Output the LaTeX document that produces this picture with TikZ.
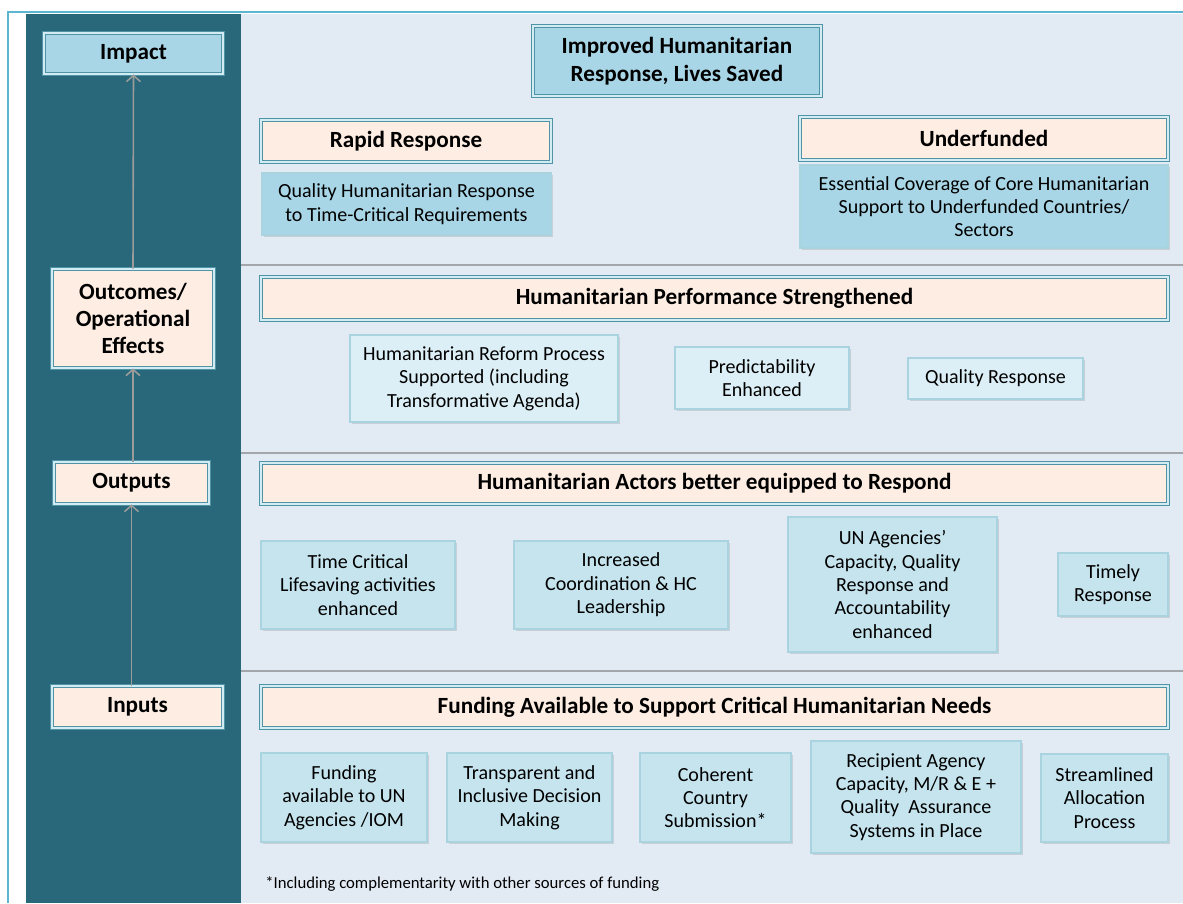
\documentclass[tikz,border=0pt]{standalone}
\usepackage{fontspec}
\setmainfont{Carlito}
\usetikzlibrary{arrows.meta,shadows}
\definecolor{framecol}{HTML}{5CB6D0}
\definecolor{column}{HTML}{28687A}
\definecolor{panel}{HTML}{E2EAF4}
\definecolor{peach}{HTML}{FDEDE3}
\definecolor{skyfill}{HTML}{A8D6E6}
\definecolor{midfill}{HTML}{C5E4EE}
\definecolor{palefill}{HTML}{DDEFF6}
\definecolor{edge}{HTML}{4F94A6}
\definecolor{innerband}{HTML}{D3EBF2}
\definecolor{softedge}{HTML}{A9D3DE}
\definecolor{arrowgray}{HTML}{9B9B9B}
\definecolor{rulegray}{HTML}{A3A7AB}

\begin{document}
\begin{tikzpicture}
      [x = 0.02cm, y = -0.02cm,
      framed/.style = {
         draw = edge,
         line width = 0.5pt,
         double = innerband,
         double distance = 1.1pt,
         drop shadow = {shadow xshift = 1pt, shadow yshift = -1.2pt, opacity = 0.3}
      },
      head/.style = {
         framed,
         fill = peach,
         align = center,
         inner sep = 1pt,
         font = \fontsize{13.2}{15.6}\selectfont\bfseries
      },
      goal/.style = {
         head,
         fill = skyfill
      },
      item/.style = {
         draw = softedge,
         line width = 0.8pt,
         align = center,
         inner sep = 1pt,
         font = \fontsize{11.4}{13.3}\selectfont,
         drop shadow = {shadow xshift = 1pt, shadow yshift = -1.2pt, opacity = 0.25}
      },
      link/.style = {arrowgray, line width = 0.9pt, -{Straight Barb[length = 3.5pt, width = 8pt]}},
      separator/.style = {rulegray, line width = 1pt}]

      \useasboundingbox (0, 0) rectangle (1183, 903);
      \fill[white] (0, 0) rectangle (1183, 903);

      % frame, level column and panel
      \draw[framecol, line width = 1.2pt] (8, 903) -- (8, 12) -- (1183, 12);
      \fill[column] (26, 14) rectangle (241, 903);
      \fill[panel] (241, 14) rectangle (1183, 903);
      \draw[separator] (241, 265) -- (1183, 265);
      \draw[separator] (241, 453) -- (1183, 453);
      \draw[separator] (241, 671) -- (1183, 671);

      % levels
      \node[goal, minimum width = 3.58cm, minimum height = 0.82cm] (impact) at (133.5, 53.5) {Impact};
      \node[head, minimum width = 3.24cm, minimum height = 1.98cm] (outcomes) at (133, 318.5) {Outcomes/\\Operational\\Effects};
      \node[head, minimum width = 3.1cm, minimum height = 0.84cm] (outputs) at (131.5, 483) {Outputs};
      \node[head, minimum width = 3.42cm, minimum height = 0.84cm] (inputs) at (137.5, 707) {Inputs};

      \draw[link] (inputs.north -| outputs.south) -- (outputs.south);
      \draw[link] (outputs.north -| outcomes.south) -- (outcomes.south);
      \draw[link] (outcomes.north) -- (impact.south);

      % impact
      \node[goal, minimum width = 5.76cm, minimum height = 1.4cm] (lives) at (677, 61) {Improved Humanitarian\\Response, Lives Saved};
      \node[head, minimum width = 5.8cm, minimum height = 0.84cm] (rapid) at (406, 141) {Rapid Response};
      \node[item, fill = skyfill, minimum width = 5.78cm, minimum height = 1.24cm] (rapidout) at (406.5, 204) {Quality Humanitarian Response\\to Time-Critical Requirements};
      \node[head, minimum width = 7.36cm, minimum height = 0.86cm] (under) at (984, 138.5) {Underfunded};
      \node[item, fill = skyfill, minimum width = 7.36cm, minimum height = 1.66cm] (underout) at (984, 206.5) {Essential Coverage of Core Humanitarian\\Support to Underfunded Countries/\\Sectors};

      % outcomes
      \node[head, minimum width = 18.14cm, minimum height = 0.86cm] (perf) at (714.5, 298.5) {Humanitarian Performance Strengthened};
      \node[item, fill = palefill, minimum width = 5.36cm, minimum height = 1.74cm] (reform) at (484, 378.5) {Humanitarian Reform Process\\Supported (including\\Transformative Agenda)};
      \node[item, fill = palefill, minimum width = 3.48cm, minimum height = 1.24cm] (predict) at (762, 378) {Predictability\\Enhanced};
      \node[item, fill = palefill, minimum width = 3.5cm, minimum height = 0.82cm] (quality) at (995.5, 378.5) {Quality Response};

      % outputs
      \node[head, minimum width = 18.14cm, minimum height = 0.82cm] (actors) at (714.5, 483.5) {Humanitarian Actors better equipped to Respond};
      \node[item, fill = midfill, minimum width = 3.88cm, minimum height = 1.76cm] (lifesave) at (358, 585) {Time Critical\\Lifesaving activities\\enhanced};
      \node[item, fill = midfill, minimum width = 4.28cm, minimum height = 1.76cm] (coord) at (621, 585) {Increased\\Coordination \& HC\\Leadership};
      \node[item, fill = midfill, minimum width = 4.18cm, minimum height = 2.7cm] (agencies) at (892.5, 584.5) {UN Agencies’\\Capacity, Quality\\Response and\\Accountability\\enhanced};
      \node[item, fill = midfill, minimum width = 2.2cm, minimum height = 1.26cm] (timely) at (1113, 584.5) {Timely\\Response};

      % inputs
      \node[head, minimum width = 18.14cm, minimum height = 0.84cm] (funding) at (714.5, 707) {Funding Available to Support Critical Humanitarian Needs};
      \node[item, fill = midfill, minimum width = 3.32cm, minimum height = 1.78cm] (agencyfunds) at (344, 797.5) {Funding\\available to UN\\Agencies /IOM};
      \node[item, fill = midfill, minimum width = 3.3cm, minimum height = 1.78cm] (decision) at (529.5, 797.5) {Transparent and\\Inclusive Decision\\Making};
      \node[item, fill = midfill, minimum width = 3.02cm, minimum height = 1.78cm] (submission) at (715.5, 797.5) {Coherent\\Country\\Submission*};
      \node[item, fill = midfill, minimum width = 4.2cm, minimum height = 2.24cm] (recipient) at (916, 797) {Recipient Agency\\Capacity, M/R \& E +\\Quality\ \ Assurance\\Systems in Place};
      \node[item, fill = midfill, minimum width = 2.54cm, minimum height = 1.76cm] (allocation) at (1104.5, 798) {Streamlined\\Allocation\\Process};

      \node[anchor = west, inner sep = 0pt, font = \fontsize{9.5}{11}\selectfont] (note) at (265, 884) {*Including complementarity with other sources of funding};

   \end{tikzpicture}
\end{document}
